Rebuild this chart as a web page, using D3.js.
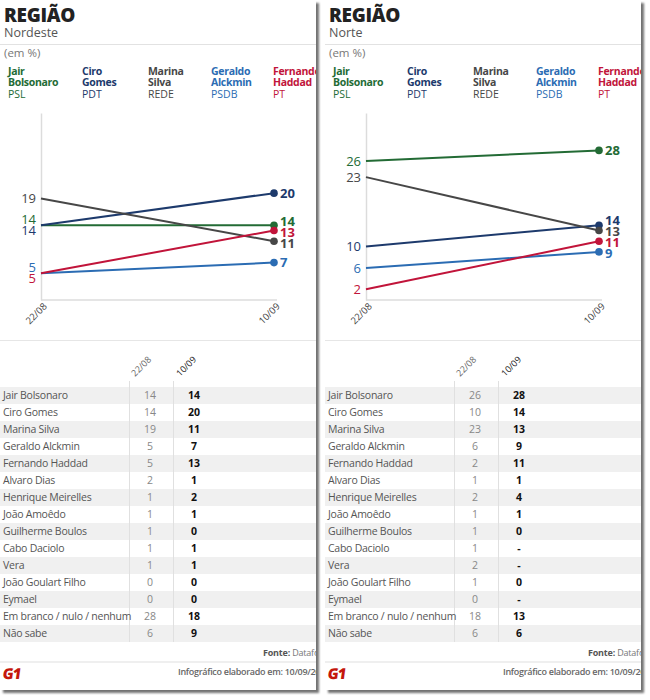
<!DOCTYPE html>
<html lang="pt">
<head>
<meta charset="utf-8">
<title>Região - Datafolha</title>
<script src="https://cdn.jsdelivr.net/npm/d3@7"></script>
<style>
  body { margin: 0; background: #fff; }
  svg { display: block; font-family: "Open Sans", "DejaVu Sans", sans-serif; }
</style>
</head>
<body>
<script>
// dados
var dates = ["22/08", "10/09"];
var candidates = ["Jair Bolsonaro", "Ciro Gomes", "Marina Silva", "Geraldo Alckmin", "Fernando Haddad"];
var legendNames = [["Jair", "Bolsonaro"], ["Ciro", "Gomes"], ["Marina", "Silva"], ["Geraldo", "Alckmin"], ["Fernando", "Haddad"]];
var parties = ["PSL", "PDT", "REDE", "PSDB", "PT"];
var colors = ["#236b35", "#1d3a6c", "#474747", "#2b6cb3", "#c1143a"];

var nordesteLines = [[14, 14], [14, 20], [19, 11], [5, 7], [5, 13]];
var norteLines = [[26, 28], [10, 14], [23, 13], [6, 9], [2, 11]];

var tableNames = ["Jair Bolsonaro", "Ciro Gomes", "Marina Silva", "Geraldo Alckmin", "Fernando Haddad",
  "Alvaro Dias", "Henrique Meirelles", "João Amoêdo", "Guilherme Boulos", "Cabo Daciolo", "Vera",
  "João Goulart Filho", "Eymael", "Em branco / nulo / nenhum", "Não sabe"];
var nordeste2208 = [14, 14, 19, 5, 5, 2, 1, 1, 1, 1, 1, 0, 0, 28, 6];
var nordeste1009 = [14, 20, 11, 7, 13, 1, 2, 1, 0, 1, 1, 0, 0, 18, 9];
var norte2208 = [26, 10, 23, 6, 2, 1, 2, 1, 1, 1, 2, 1, 0, 18, 6];
var norte1009 = [28, 14, 13, 9, 11, 1, 4, 1, 0, "-", "-", 0, "-", 13, 6];

var W = 650, H = 700;
var panelW = 316, panelH = 690;

var svg = d3.select("body").append("svg")
  .attr("width", W)
  .attr("height", H);

var defs = svg.append("defs");
var shadow = defs.append("filter").attr("id", "shadow")
  .attr("x", "-5%").attr("y", "-5%").attr("width", "115%").attr("height", "115%");
shadow.append("feDropShadow")
  .attr("dx", 3).attr("dy", 3).attr("stdDeviation", 1.2)
  .attr("flood-color", "#000").attr("flood-opacity", 0.55);

defs.append("clipPath").attr("id", "panelClip")
  .append("rect").attr("width", panelW).attr("height", panelH);

// separa rótulos que se sobrepõem, centrando cada grupo na média
function spread(items, gap) {
  items.sort(function(a, b) { return a.y - b.y || a.i - b.i; });
  var groups = items.map(function(d) { return { items: [d], mean: d.y }; });
  var merged = true;
  while (merged) {
    merged = false;
    for (var k = 0; k < groups.length - 1; k++) {
      var a = groups[k], b = groups[k + 1];
      var aTop = a.mean - (a.items.length - 1) * gap / 2;
      var bTop = b.mean - (b.items.length - 1) * gap / 2;
      if (bTop < aTop + a.items.length * gap) {
        var all = a.items.concat(b.items);
        groups.splice(k, 2, { items: all, mean: d3.mean(all, function(d) { return d.y; }) });
        merged = true;
        break;
      }
    }
  }
  groups.forEach(function(g) {
    var top = g.mean - (g.items.length - 1) * gap / 2;
    g.items.forEach(function(d, j) { d.ly = top + j * gap; });
  });
  return items;
}

function drawPanel(ox, region, lines, col2208, col1009) {
  var panel = svg.append("g").attr("transform", "translate(" + ox + ",0)");

  panel.append("rect")
    .attr("width", panelW).attr("height", panelH)
    .attr("fill", "#fff")
    .attr("filter", "url(#shadow)");

  var g = panel.append("g").attr("clip-path", "url(#panelClip)");

  // cabeçalho
  g.append("text").attr("x", 4).attr("y", 22)
    .attr("font-size", 19).attr("font-weight", 800).attr("fill", "#222")
    .attr("letter-spacing", -0.3)
    .text("REGIÃO");
  g.append("text").attr("x", 4).attr("y", 37)
    .attr("font-size", 12.5).attr("fill", "#555")
    .text(region);
  g.append("line").attr("x1", 0).attr("x2", panelW).attr("y1", 44.5).attr("y2", 44.5)
    .attr("stroke", "#e2e2e2");
  g.append("text").attr("x", 4).attr("y", 57)
    .attr("font-size", 11.5).attr("fill", "#777")
    .text("(em %)");

  // legenda
  var legX = [8, 82, 148, 211, 273];
  var leg = g.selectAll(".leg").data(candidates).enter().append("g")
    .attr("transform", function(d, i) { return "translate(" + legX[i] + ",0)"; });
  leg.append("text").attr("y", 75).attr("font-size", 10.5).attr("font-weight", 700)
    .attr("letter-spacing", -0.3)
    .attr("fill", function(d, i) { return colors[i]; })
    .text(function(d, i) { return legendNames[i][0]; });
  leg.append("text").attr("y", 86).attr("font-size", 10.5).attr("font-weight", 700)
    .attr("letter-spacing", -0.3)
    .attr("fill", function(d, i) { return colors[i]; })
    .text(function(d, i) { return legendNames[i][1]; });
  leg.append("text").attr("y", 98).attr("font-size", 10.5)
    .attr("fill", function(d, i) { return colors[i]; })
    .text(function(d, i) { return parties[i]; });

  // gráfico de linhas
  var x = d3.scalePoint().domain(dates).range([41, 274]);
  var y = d3.scaleLinear().domain([0, 35]).range([300, 113]);

  var xAxis = g.append("g").attr("transform", "translate(0,300)")
    .call(d3.axisBottom(x).tickSize(0));
  xAxis.select(".domain").attr("stroke", "#dcdcdc").attr("stroke-width", 1.5)
    .attr("d", "M41,0H277");
  xAxis.selectAll("text")
    .attr("x", 0).attr("y", 0).attr("dy", 0)
    .attr("text-anchor", "end")
    .attr("transform", "translate(6,7) rotate(-45)")
    .attr("font-size", 9.5).attr("font-family", "Open Sans, sans-serif").attr("fill", "#444");

  var yAxis = g.append("g").attr("transform", "translate(41,0)")
    .call(d3.axisLeft(y).ticks(0).tickSize(0));
  yAxis.select(".domain").attr("stroke", "#dcdcdc").attr("stroke-width", 1.5);

  var line = d3.line()
    .x(function(d, i) { return x(dates[i]); })
    .y(function(d) { return y(d); });

  g.selectAll(".series").data(lines).enter().append("path")
    .attr("d", line)
    .attr("fill", "none")
    .attr("stroke", function(d, i) { return colors[i]; })
    .attr("stroke-width", 2);

  g.selectAll(".dot").data(lines).enter().append("circle")
    .attr("cx", x(dates[1]))
    .attr("cy", function(d) { return y(d[1]); })
    .attr("r", 3.8)
    .attr("fill", function(d, i) { return colors[i]; });

  var startLabels = spread(lines.map(function(d, i) { return { i: i, v: d[0], y: y(d[0]) }; }), 11);
  g.selectAll(".startLab").data(startLabels).enter().append("text")
    .attr("x", x(dates[0]) - 5)
    .attr("y", function(d) { return d.ly; })
    .attr("dy", "0.36em")
    .attr("text-anchor", "end")
    .attr("font-size", 13)
    .attr("fill", function(d) { return colors[d.i]; })
    .text(function(d) { return d.v; });

  var endLabels = spread(lines.map(function(d, i) { return { i: i, v: d[1], y: y(d[1]) }; }), 11);
  g.selectAll(".endLab").data(endLabels).enter().append("text")
    .attr("x", x(dates[1]) + 6)
    .attr("y", function(d) { return d.ly; })
    .attr("dy", "0.36em")
    .attr("font-size", 13)
    .attr("font-weight", 700)
    .attr("fill", function(d) { return colors[d.i]; })
    .text(function(d) { return d.v; });

  g.append("line").attr("x1", 0).attr("x2", panelW).attr("y1", 340.5).attr("y2", 340.5)
    .attr("stroke", "#e6e6e6");

  // tabela
  var rows = d3.scaleBand().domain(tableNames).range([387, 387 + tableNames.length * 17]);
  var colX = { name: 3, a: 150, b: 194 };

  g.selectAll(".rowBg").data(tableNames.filter(function(d, i) { return i % 2 === 0; }))
    .enter().append("rect")
    .attr("x", 0).attr("width", panelW)
    .attr("y", function(d) { return rows(d); })
    .attr("height", rows.bandwidth())
    .attr("fill", "#f0f0f0");

  [129, 173].forEach(function(cx) {
    g.append("line").attr("x1", cx + 0.5).attr("x2", cx + 0.5)
      .attr("y1", 381).attr("y2", rows.range()[1])
      .attr("stroke", "#e0e0e0");
  });

  g.append("text").attr("transform", "translate(135,377) rotate(-45)")
    .attr("font-size", 9).attr("fill", "#666").text(dates[0]);
  g.append("text").attr("transform", "translate(180,377) rotate(-45)")
    .attr("font-size", 9).attr("fill", "#222").text(dates[1]);

  var row = g.selectAll(".row").data(tableNames).enter().append("g")
    .attr("transform", function(d) { return "translate(0," + (rows(d) + rows.bandwidth() / 2) + ")"; });
  row.append("text").attr("x", colX.name).attr("dy", "0.36em")
    .attr("font-size", 10.5).attr("letter-spacing", -0.25).attr("fill", "#555")
    .text(function(d) { return d; });
  row.append("text").attr("x", colX.a).attr("dy", "0.36em")
    .attr("text-anchor", "middle").attr("font-size", 10.5).attr("fill", "#888")
    .text(function(d, i) { return col2208[i]; });
  row.append("text").attr("x", colX.b).attr("dy", "0.36em")
    .attr("text-anchor", "middle").attr("font-size", 10.5).attr("font-weight", 700).attr("fill", "#111")
    .text(function(d, i) { return col1009[i]; });

  // rodapé
  var fonte = g.append("text").attr("x", 263).attr("y", 656)
    .attr("font-size", 9).attr("letter-spacing", -0.2);
  fonte.append("tspan").attr("font-weight", 700).attr("fill", "#555").text("Fonte: ");
  fonte.append("tspan").attr("fill", "#777").text("Datafolha");

  g.append("rect").attr("x", 0).attr("y", 661).attr("width", panelW).attr("height", 2)
    .attr("fill", "#efefef");

  g.append("text").attr("x", 178).attr("y", 675)
    .attr("font-size", 9).attr("font-weight", 600).attr("fill", "#666")
    .attr("letter-spacing", -0.3)
    .text("Infográfico elaborado em: 10/09/2018");

  g.append("text")
    .attr("transform", "translate(2,679) skewX(-8)")
    .attr("font-size", 15).attr("font-weight", 800).attr("fill", "#c4170c")
    .attr("letter-spacing", -1)
    .text("G1");
}

drawPanel(0, "Nordeste", nordesteLines, nordeste2208, nordeste1009);
drawPanel(325, "Norte", norteLines, norte2208, norte1009);
</script>
</body>
</html>
